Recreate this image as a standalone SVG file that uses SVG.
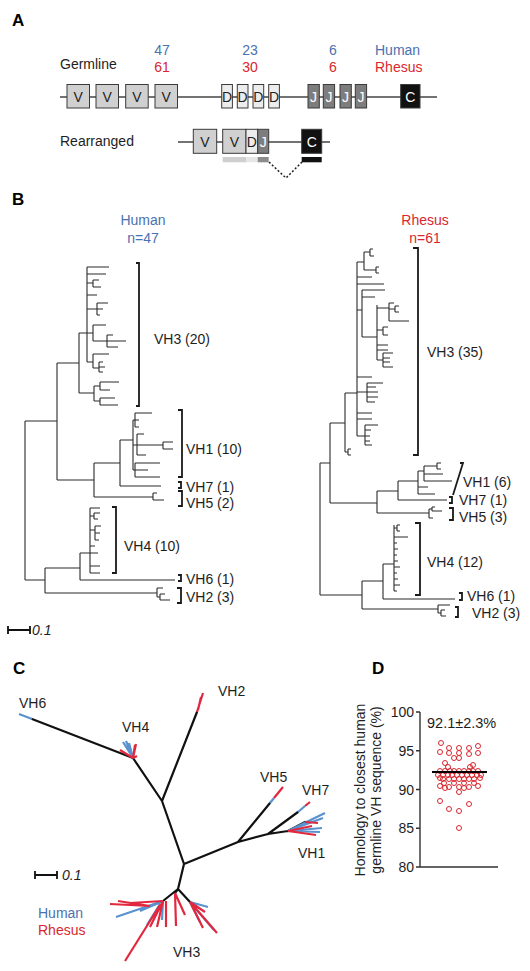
<svg xmlns="http://www.w3.org/2000/svg" width="530" height="971" viewBox="0 0 530 971">
<style>
.t{font-family:"Liberation Sans",Arial,sans-serif;font-size:14px;fill:#1e1e1e}
.lbl{font-family:"Liberation Sans",Arial,sans-serif;font-size:17px;font-weight:bold;fill:#000}
.hu{fill:#4a72b0}
.rh{fill:#d9272e}
.c{text-anchor:middle}
.w{fill:#fff}
.it{font-style:italic}
.ln{fill:none;stroke:#444;stroke-width:1.3}
.bx{stroke:#3a3a3a;stroke-width:1}
.vb{fill:#d0d0d0}
.db{fill:#ececec}
.jb{fill:#7d7d7d}
.cb{fill:#111}
.tree{fill:none;stroke:#2a2a2a;stroke-width:1.1}
.br{fill:none;stroke:#1a1a1a;stroke-width:1.8}
.bk{fill:none;stroke:#111;stroke-width:2.2;stroke-linecap:round}
.rd{fill:none;stroke:#e2283e;stroke-width:2.2}
.bl{fill:none;stroke:#5a92cf;stroke-width:2.2}
.ax{fill:none;stroke:#333;stroke-width:1.4}
.pt{fill:none;stroke:#d9272e;stroke-width:1}
</style>

<!-- Panel A -->
<g id="panelA">
<text class="lbl" x="12" y="26">A</text>
<text class="t hu c" x="162" y="55">47</text>
<text class="t rh c" x="162" y="72">61</text>
<text class="t hu c" x="250" y="55">23</text>
<text class="t rh c" x="250" y="72">30</text>
<text class="t hu c" x="333" y="55">6</text>
<text class="t rh c" x="333" y="72">6</text>
<text class="t hu" x="375" y="55">Human</text>
<text class="t rh" x="375" y="72">Rhesus</text>
<text class="t" x="60" y="69">Germline</text>
<path class="ln" d="M60 97H437"/>
<g id="germ-V">
<rect class="bx vb" x="67" y="84.5" width="22.5" height="23.5"/><text class="t c" x="78.2" y="101.5">V</text>
<rect class="bx vb" x="96" y="84.5" width="22.5" height="23.5"/><text class="t c" x="107.2" y="101.5">V</text>
<rect class="bx vb" x="125.7" y="84.5" width="22.5" height="23.5"/><text class="t c" x="137" y="101.5">V</text>
<rect class="bx vb" x="155" y="84.5" width="22.5" height="23.5"/><text class="t c" x="166.2" y="101.5">V</text>
</g>
<g id="germ-D">
<rect class="bx db" x="221.7" y="84.5" width="10.7" height="23.5"/><text class="t c" x="227" y="101.5">D</text>
<rect class="bx db" x="237.3" y="84.5" width="10.7" height="23.5"/><text class="t c" x="242.6" y="101.5">D</text>
<rect class="bx db" x="253" y="84.5" width="10.7" height="23.5"/><text class="t c" x="258.3" y="101.5">D</text>
<rect class="bx db" x="268.7" y="84.5" width="10.7" height="23.5"/><text class="t c" x="274" y="101.5">D</text>
</g>
<g id="germ-J">
<rect class="bx jb" x="308" y="84.5" width="11.3" height="23.5"/><text class="t c w" x="313.6" y="101.5">J</text>
<rect class="bx jb" x="323.3" y="84.5" width="11.3" height="23.5"/><text class="t c w" x="329" y="101.5">J</text>
<rect class="bx jb" x="340" y="84.5" width="11.3" height="23.5"/><text class="t c w" x="345.6" y="101.5">J</text>
<rect class="bx jb" x="355.3" y="84.5" width="11.3" height="23.5"/><text class="t c w" x="361" y="101.5">J</text>
</g>
<g id="germ-C">
<rect class="bx cb" x="400.7" y="84.5" width="19.3" height="23.5"/><text class="t c w" x="410.3" y="101.5">C</text>
</g>
<text class="t" x="60" y="146">Rearranged</text>
<path class="ln" d="M178 142H330"/>
<g id="rearr">
<rect class="bx vb" x="193.3" y="129.3" width="23.4" height="24"/><text class="t c" x="205" y="146.5">V</text>
<rect class="bx vb" x="222.7" y="129.3" width="23.3" height="24"/><text class="t c" x="234.3" y="146.5">V</text>
<rect class="bx db" x="246" y="129.3" width="11.7" height="24"/><text class="t c" x="251.8" y="146.5">D</text>
<rect class="bx jb" x="257.7" y="129.3" width="11" height="24"/><text class="t c w" x="263.2" y="146.5">J</text>
<rect class="bx cb" x="301.7" y="129.3" width="20" height="24"/><text class="t c w" x="311.7" y="146.5">C</text>
<rect x="222.7" y="157" width="23.3" height="5.3" fill="#cfcfcf"/>
<rect x="246" y="157" width="11.7" height="5.3" fill="#e6e6e6"/>
<rect x="257.7" y="157" width="11" height="5.3" fill="#8c8c8c"/>
<rect x="301.7" y="157" width="20" height="5.3" fill="#111"/>
<path d="M269 162L286 178L302 162" fill="none" stroke="#222" stroke-width="1.5" stroke-dasharray="2 2"/>
</g>
</g>

<!-- Panel B -->
<g id="panelB">
<text class="lbl" x="12" y="205">B</text>
<text class="t hu c" x="143" y="225">Human</text>
<text class="t hu c" x="143" y="243">n=47</text>
<text class="t rh c" x="425" y="225">Rhesus</text>
<text class="t rh c" x="425" y="243">n=61</text>

<g id="human-tree">
<path class="tree" d="M25 421V580M25 421H57M25 580H45
M57 363V480M57 363H79M57 480H94
M79 333V393M79 333H87M79 393H94
M87 267V362M87 267H109M87 274H106M87 283H93M93 280V287M93 280H99M93 287H101M87 295H97
M87 309H97M97 303V315M97 303H108M97 309H103M97 315H100
M87 333H93M93 325V341M93 325H106M93 341H107M107 335V347M107 335H113M107 341H126M107 347H118
M87 362H93M93 354V368M93 354H109M93 368H99M99 362V372M99 362H103M99 367H105M99 372H103
M94 386V401M94 386H100M100 382V390M100 382H119M100 390H110M94 401H100M100 398V405M100 398H115M100 405H118
M94 463V497M94 463H120M94 497H153
M153 493V500M153 493H157M153 500H164
M120 440V486M120 440H133M120 486H161
M133 420V470M133 420H135M135 413V427M135 413H152M135 420H139M135 427H139
M133 445H137M137 434V455M137 434H144M137 445H163M163 442V449M163 442H173M163 449H173M137 455H146
M133 470H135M135 463V477M135 463H160M135 470H148M135 477H160
M45 568V593M45 568H80M45 593H157
M80 553V580M80 553H90M80 580H175
M90 508V573M90 508H100M90 516H94M94 513V519M94 513H100M94 519H98
M90 530H95M95 526V540M95 526H101M95 533H100M95 540H99M90 546H95M90 553H98M90 566H100M90 573H100
M157 588V597M157 588H163M157 597H160M160 594V600M160 594H165M160 600H170"/>
<path class="br" d="M136 263H139V406H136M178 410H182V477H178M178 482H181V488H178M178 491H182V506H178M112 507H116V573H112M178 575H181V581H178M177 588H181V603H177"/>
</g>
<g id="human-labels">
<text class="t" x="154" y="344">VH3 (20)</text>
<text class="t" x="186" y="454">VH1 (10)</text>
<text class="t" x="186" y="492">VH7 (1)</text>
<text class="t" x="186" y="508">VH5 (2)</text>
<text class="t" x="124" y="551">VH4 (10)</text>
<text class="t" x="186" y="584">VH6 (1)</text>
<text class="t" x="186" y="602">VH2 (3)</text>
</g>

<g id="rhesus-tree">
<path class="tree" d="M320 463V595M320 463H330M320 595H362
M330 423V503M330 423H345M330 503H377
M345 393V452M345 393H357M345 452H348M348 449V455M348 449H351M348 455H351
M357 262V436
M357 262H364M364 252V270M364 252H370M370 249V256M370 249H373M370 256H374M364 270H376M376 267V273M376 267H379M376 273H379
M357 277H372M357 284H384
M357 310H362M362 290V337M362 290H385M362 297H375M362 337H377
M377 305V360M377 308H389M389 303V321M389 303H394M389 309H395M395 306V312M395 306H399M395 312H399M389 321H409
M377 330H383M383 327V335M383 327H388M383 335H388M377 345H388M377 350H388
M377 360H383M383 353V367M383 353H393M383 358H390M383 362H390M383 367H393
M357 377H372
M357 392H367M367 383V402M367 383H383M367 387H376M367 392H378M367 397H378M367 402H375
M357 413H372M357 419H372
M357 436H365M365 425V445M365 425H378M365 430H371M365 436H370M365 441H370M365 445H372
M377 491V513M377 491H398M377 513H429
M398 481V500M398 481H418M398 500H447
M418 471V494M418 471H424M424 466V481M424 466H437M437 463V469M437 463H441M437 469H441M424 474H443M424 481H452M418 487H428M418 494H435
M429 509V518M429 509H432M432 507V511M432 507H435M432 511H442M429 518H433
M362 581V609M362 581H383M362 609H438
M383 564V599M383 564H394M383 599H455
M394 525V591M394 528H397M397 525V531M397 525H400M397 531H400M394 537H408M394 543H397M394 549H398M394 555H397M394 561H398M394 567H400M394 573H397M394 579H398M394 585H400M394 591H397
M438 605V613M438 605H450M438 613H441M441 610V616M441 610H445M441 616H446"/>
<path class="br" d="M413 248H418V455H413M460 463H463L453 495M449 497H452V503H449M449 508H453V520H449M415 523H420V595H415M459 593H462V600H459M455 607H458V617H455"/>
</g>
<g id="rhesus-labels">
<text class="t" x="427" y="357">VH3 (35)</text>
<text class="t" x="463" y="487">VH1 (6)</text>
<text class="t" x="459" y="505">VH7 (1)</text>
<text class="t" x="459" y="522">VH5 (3)</text>
<text class="t" x="427" y="567">VH4 (12)</text>
<text class="t" x="467" y="601">VH6 (1)</text>
<text class="t" x="472" y="618">VH2 (3)</text>
</g>
<g id="scaleB">
<path d="M8 630H30M8 626V634M30 626V634" stroke="#111" stroke-width="1.8" fill="none"/>
<text class="t it" x="32" y="635">0.1</text>
</g>
</g>

<!-- Panel C -->
<g id="panelC">
<text class="lbl" x="13" y="674">C</text>
<g id="connectors">
<path class="bk" d="M184 864L162 801M162 801L133 758M133 758L32 719M162 801L197 712M184 864L238 842M238 842L270 803M238 842L268 834M268 834L298 812M268 834L288 831M184 864L178 889M178 889L163 901M178 889L190 902M178 889L175 893M288 831L305 822M163 901L150 906"/>
<path class="bl" d="M32 719L19 714M270 803L274 798M298 812L305 806M133 758L123 742M133 758L126 741M133 758L129 743M288 831L325 813M288 831L322 828M288 831L320 832M288 831L323 818M163 901L116 917M163 901L140 911M160 904L147 925M163 901L162 920M190 902L208 907M190 902L214 930M190 902L200 922"/>
<path class="rd" d="M197 712L203 693M198 710L201 697M274 798L283 787M305 806L310 802M133 758L120 750M133 758L136 744M133 758L137 756M133 758L135 745M305 822L318 823M288 831L316 835M288 831L312 826M150 906L110 904M150 906L118 901M163 901L130 903M160 905L125 961M163 901L150 927M163 901L157 927M166 901L166 927M175 893L185 915M175 893L176 926M190 902L205 912M190 902L217 933M190 902L203 928"/>
</g>
<g id="C-labels">
<text class="t" x="19" y="708">VH6</text>
<text class="t" x="122" y="732">VH4</text>
<text class="t" x="218" y="696">VH2</text>
<text class="t" x="260" y="782">VH5</text>
<text class="t" x="302" y="795">VH7</text>
<text class="t" x="298" y="858">VH1</text>
<text class="t" x="173" y="957">VH3</text>
<text class="t hu" x="38" y="918">Human</text>
<text class="t rh" x="38" y="935">Rhesus</text>
</g>
<g id="scaleC">
<path d="M35 875H57M35 871V879M57 871V879" stroke="#111" stroke-width="1.8" fill="none"/>
<text class="t it" x="62" y="880">0.1</text>
</g>
</g>

<!-- Panel D -->
<g id="panelD">
<text class="lbl" x="372" y="674">D</text>
<g id="D-axis">
<path class="ax" d="M420 712V867H498M416 712H420M416 750.7H420M416 789.5H420M416 828.2H420M416 867H420"/>
<text class="t" x="414" y="717" text-anchor="end">100</text>
<text class="t" x="414" y="755.5" text-anchor="end">95</text>
<text class="t" x="414" y="794.5" text-anchor="end">90</text>
<text class="t" x="414" y="833" text-anchor="end">85</text>
<text class="t" x="414" y="872" text-anchor="end">80</text>
<text class="t" transform="translate(365 790) rotate(-90)" text-anchor="middle">Homology to closest human</text>
<text class="t" transform="translate(381 790) rotate(-90)" text-anchor="middle">germline VH sequence (%)</text>
<text class="t" x="427" y="728" style="font-size:14.5px">92.1±2.3%</text>
</g>
<g id="D-points">
<g class="pt">
<circle cx="441" cy="743" r="2.5"/><circle cx="449" cy="748" r="2.5"/><circle cx="459" cy="748" r="2.5"/><circle cx="469" cy="748" r="2.5"/><circle cx="478" cy="746" r="2.5"/>
<circle cx="440" cy="752" r="2.5"/><circle cx="449" cy="753" r="2.5"/><circle cx="459" cy="753" r="2.5"/><circle cx="469" cy="754" r="2.5"/><circle cx="478" cy="753" r="2.5"/>
<circle cx="459" cy="758" r="2.5"/><circle cx="454" cy="758" r="2.5"/><circle cx="445" cy="763" r="2.5"/><circle cx="473" cy="765" r="2.5"/><circle cx="448" cy="767" r="2.5"/><circle cx="470" cy="767" r="2.5"/>
<circle cx="440" cy="771" r="2.5"/><circle cx="445" cy="771" r="2.5"/><circle cx="450" cy="771" r="2.5"/><circle cx="454" cy="771" r="2.5"/><circle cx="459" cy="771" r="2.5"/><circle cx="464" cy="771" r="2.5"/><circle cx="469" cy="771" r="2.5"/><circle cx="473" cy="771" r="2.5"/><circle cx="478" cy="771" r="2.5"/>
<circle cx="438" cy="775" r="2.5"/><circle cx="443" cy="775" r="2.5"/><circle cx="448" cy="775" r="2.5"/><circle cx="452" cy="775" r="2.5"/><circle cx="457" cy="775" r="2.5"/><circle cx="462" cy="775" r="2.5"/><circle cx="467" cy="775" r="2.5"/><circle cx="472" cy="775" r="2.5"/><circle cx="477" cy="775" r="2.5"/><circle cx="481" cy="775" r="2.5"/>
<circle cx="440" cy="778" r="2.5"/><circle cx="480" cy="778" r="2.5"/>
<circle cx="443" cy="779" r="2.5"/><circle cx="449" cy="779" r="2.5"/><circle cx="454" cy="779" r="2.5"/><circle cx="459" cy="779" r="2.5"/><circle cx="464" cy="779" r="2.5"/><circle cx="469" cy="779" r="2.5"/><circle cx="474" cy="779" r="2.5"/>
<circle cx="444" cy="783" r="2.5"/><circle cx="454" cy="783" r="2.5"/><circle cx="464" cy="783" r="2.5"/><circle cx="474" cy="783" r="2.5"/>
<circle cx="440" cy="786" r="2.5"/><circle cx="449" cy="787" r="2.5"/><circle cx="459" cy="787" r="2.5"/><circle cx="469" cy="787" r="2.5"/><circle cx="478" cy="786" r="2.5"/>
<circle cx="445" cy="788" r="2.5"/><circle cx="464" cy="788" r="2.5"/>
<circle cx="459" cy="792" r="2.5"/><circle cx="440" cy="801" r="2.5"/><circle cx="469" cy="804" r="2.5"/><circle cx="449" cy="809" r="2.5"/><circle cx="459" cy="811" r="2.5"/><circle cx="459" cy="828" r="2.5"/>
</g>
<path d="M432 772H487" stroke="#000" stroke-width="2"/>
</g>
</g>
</svg>
